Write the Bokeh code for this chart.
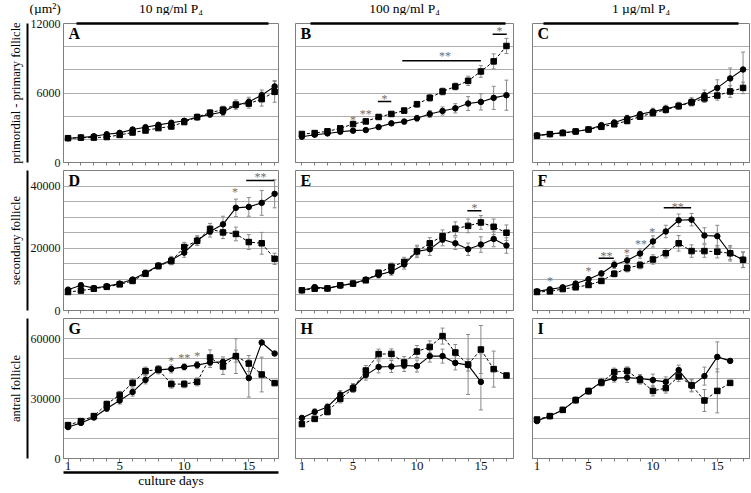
from bokeh.plotting import figure
from bokeh.models import Range1d, FixedTicker, ColumnDataSource, Whisker, TeeHead, Label, LinearAxis
from bokeh.layouts import row, column
from bokeh.embed import file_html
from bokeh.resources import INLINE
from bokeh.core.properties import value

FONT = "'Liberation Serif', 'Times New Roman', serif"

days17 = list(range(1, 18))
x_tick_labels = [1, 5, 10, 15]
col_titles = ["10 ng/ml P\u2084", "100 ng/ml P\u2084", "1 \u00b5g/ml P\u2084"]
row_titles = ["primordial - primary follicle", "secondary follicle", "antral follicle"]
unit_label = "(\u00b5m\u00b2)"
x_title = "culture days"

row_ymax = [12000, 45000, 70000]
row_grid = [2000, 5000, 10000]
row_yticks = [[0, 6000, 12000], [0, 20000, 40000], [0, 30000, 60000]]

# ---- Panel A
A_circ = [2100, 2150, 2270, 2440, 2560, 2850, 3050, 3250, 3430, 3600, 3920, 4150, 4360, 4940, 5230, 5810, 6570]
A_circ_err = [80, 80, 100, 120, 120, 150, 150, 150, 150, 200, 250, 250, 300, 300, 400, 450, 500]
A_sq = [2100, 2150, 2150, 2200, 2380, 2590, 2760, 2970, 3110, 3490, 3920, 4300, 4560, 5000, 5090, 5470, 6100]
A_sq_err = [80, 80, 100, 120, 120, 150, 150, 150, 200, 200, 250, 250, 300, 400, 400, 600, 900]
A_stars = []
A_bars = []

# ---- Panel B
B_circ = [2230, 2400, 2510, 2660, 2750, 2800, 3060, 3380, 3530, 3820, 4190, 4450, 4680, 5090, 5230, 5580, 5810]
B_circ_err = [100, 100, 100, 100, 100, 120, 150, 150, 200, 250, 300, 350, 400, 600, 700, 1000, 1300]
B_sq = [2460, 2540, 2690, 2950, 3320, 3550, 3930, 4190, 4480, 5030, 5580, 6130, 6560, 7050, 7860, 8730, 10060]
B_sq_err = [100, 100, 100, 150, 150, 150, 150, 200, 200, 250, 300, 300, 300, 400, 500, 650, 650]
B_stars = [(5, 3900, "*"), (6, 4420, "**"), (7.47, 5780, "*"), (12.2, 9450, "**"), (16.45, 11620, "*")]
B_bars = [(6.94, 7.99, 5260), (8.85, 15.0, 8790), (15.92, 17.02, 11070)]

# ---- Panel C
C_circ = [2340, 2450, 2590, 2680, 2850, 3220, 3450, 3820, 4160, 4390, 4640, 4900, 5240, 5810, 6440, 7260, 8030]
C_circ_err = [100, 100, 100, 100, 120, 200, 200, 250, 250, 300, 300, 300, 350, 450, 700, 900, 1500]
C_sq = [2310, 2450, 2540, 2680, 2850, 3080, 3300, 3590, 3960, 4270, 4560, 4870, 5190, 5530, 5780, 6130, 6440]
C_sq_err = [100, 100, 100, 100, 120, 200, 200, 250, 250, 300, 300, 300, 300, 350, 400, 500, 500]
C_stars = []
C_bars = []

# ---- Panel D
D_circ = [6700, 8100, 7200, 7800, 8650, 9950, 12100, 14400, 16200, 18600, 22500, 25400, 27700, 33000, 33300, 34600, 37500]
D_circ_err = [500, 900, 500, 500, 500, 700, 900, 1000, 1200, 1500, 1500, 1800, 2600, 2800, 3000, 4000, 4500]
D_sq = [5950, 6400, 7000, 7600, 8400, 9500, 11800, 14300, 15900, 20400, 22400, 26200, 25100, 24600, 22000, 21600, 16600]
D_sq_err = [500, 500, 500, 500, 600, 700, 900, 1000, 1200, 1500, 1500, 1800, 2000, 2200, 2400, 3500, 1800]
D_stars = [(13.94, 38900, "*"), (15.9, 44000, "**")]
D_bars = [(14.8, 16.96, 41800)]

# ---- Panel E
E_circ = [6500, 7500, 7100, 8000, 8650, 9950, 11450, 12550, 14800, 19000, 19700, 22800, 21600, 19700, 21200, 23000, 20900]
E_circ_err = [400, 800, 400, 500, 500, 700, 1000, 1200, 1500, 2000, 2000, 2000, 2000, 2000, 2500, 2500, 2500]
E_sq = [6500, 7000, 7100, 8100, 8650, 9700, 12100, 14050, 15600, 19000, 21600, 23900, 26300, 27200, 28300, 26900, 25000]
E_sq_err = [400, 500, 400, 500, 500, 700, 1000, 1200, 1500, 1500, 1800, 2000, 2200, 2200, 2200, 2500, 2500]
E_stars = [(14.5, 34050, "*")]
E_bars = [(13.94, 15.04, 32100)]

# ---- Panel F
F_circ = [6150, 6800, 7450, 8650, 10050, 11900, 14700, 16100, 18300, 22200, 25400, 29000, 29200, 24100, 23900, 18400, 16300]
F_circ_err = [400, 500, 500, 600, 700, 800, 1200, 1500, 1500, 1800, 2000, 2000, 2000, 2500, 3500, 2500, 2500]
F_sq = [5950, 6150, 6900, 7450, 8200, 9500, 11800, 13600, 14600, 16400, 18400, 21600, 19100, 19100, 18900, 18400, 16300]
F_sq_err = [400, 500, 500, 600, 700, 800, 1000, 1200, 1200, 1500, 1500, 2500, 2000, 2000, 2000, 2000, 2500]
F_stars = [(2.01, 10500, "*"), (4.99, 13700, "*"), (6.39, 18400, "**"), (7.97, 19460, "*"),
           (9.08, 22400, "**"), (9.94, 26200, "*"), (11.93, 34300, "**")]
F_bars = [(5.79, 6.96, 16760), (10.84, 12.97, 33000)]

# ---- Panel G
G_circ = [15700, 17800, 20500, 25000, 29000, 33200, 39300, 44300, 44800, 45800, 46700, 48000, 48300, 51200, 40200, 58000, 52500]
G_circ_err = [800, 800, 1000, 1500, 1800, 2000, 2000, 2000, 2000, 1500, 1800, 2500, 2500, 3000, 9500, 0, 0]
G_sq = [16700, 18700, 21200, 27200, 31800, 37800, 43700, 44500, 37200, 37200, 38300, 50500, 46000, 51200, 47500, 42000, 37700]
G_sq_err = [800, 800, 1000, 1500, 1800, 2000, 2000, 2000, 2000, 1800, 2000, 3800, 4000, 8700, 4000, 8700, 0]
G_stars = [(9, 50300, "*"), (10, 52000, "**"), (11, 53000, "*")]
G_bars = []

# ---- Panel H
H_circ = [20300, 23300, 25800, 32000, 35500, 41700, 45800, 46000, 46500, 46200, 51200, 51200, 47800, 46700, 38300]
H_circ_err = [1000, 1500, 1500, 2000, 2000, 2500, 3000, 3000, 3000, 3000, 3000, 3500, 3500, 3000, 14000]
H_sq = [17200, 19800, 23300, 29800, 35000, 44000, 52200, 52300, 48000, 53500, 55800, 61200, 53000, 47000, 54500, 44700, 41500]
H_sq_err = [1000, 1000, 1500, 2000, 2000, 2500, 2500, 2500, 3000, 3000, 3000, 4000, 4000, 15000, 12000, 9000, 0]
H_stars = []
H_bars = []

# ---- Panel I
I_circ = [18700, 21200, 24300, 29200, 33700, 38300, 40200, 40500, 40000, 39200, 38300, 44200, 36300, 41200, 50800, 48800]
I_circ_err = [800, 1000, 1000, 1500, 1500, 1800, 2000, 2500, 2000, 3000, 2500, 2500, 3000, 4500, 7500, 0]
I_sq = [19500, 21200, 24300, 29200, 33700, 38000, 43200, 43800, 39200, 33800, 35200, 41000, 36700, 29000, 33800, 37800]
I_sq_err = [800, 1000, 1000, 1500, 1500, 1800, 2000, 2000, 2000, 2500, 2500, 2500, 3000, 5500, 11000, 0]
I_stars = []
I_bars = []

panels = [
    ("A", A_circ, A_circ_err, A_sq, A_sq_err, A_stars, A_bars),
    ("B", B_circ, B_circ_err, B_sq, B_sq_err, B_stars, B_bars),
    ("C", C_circ, C_circ_err, C_sq, C_sq_err, C_stars, C_bars),
    ("D", D_circ, D_circ_err, D_sq, D_sq_err, D_stars, D_bars),
    ("E", E_circ, E_circ_err, E_sq, E_sq_err, E_stars, E_bars),
    ("F", F_circ, F_circ_err, F_sq, F_sq_err, F_stars, F_bars),
    ("G", G_circ, G_circ_err, G_sq, G_sq_err, G_stars, G_bars),
    ("H", H_circ, H_circ_err, H_sq, H_sq_err, H_stars, H_bars),
    ("I", I_circ, I_circ_err, I_sq, I_sq_err, I_stars, I_bars),
]

# ---- layout geometry (pixels)
COL_XR = [(0.65, 17.3), (0.5, 17.55), (0.65, 17.5)]
COL_BL = [63, 9, 10]
COL_FW = [215, 218, 217]
COL_BR = [8, 9, 2]
HDR_H = 15
UNIT_X = 29
ROW_BT = [8, 1, 1]
ROW_FH = [139, 140, 140]
ROW_BB = [7, 7, 35]
HDR_INSET = [(13, 10), (15, 8), (11, 11)]   # header rule insets from frame edges, px

GRID_COLOR = "#adadad"
FRAME_COLOR = "#7f7f7f"
ERR_COLOR = "#8a8a8a"
STAR_COLOR = "#6e6e6e"


def bare_axis(**kw):
    base = dict(ticker=FixedTicker(ticks=[]), axis_line_color=None, major_tick_out=0, major_tick_in=0,
                major_tick_line_color=None, minor_tick_line_color=None, minor_tick_out=0, minor_tick_in=0,
                major_label_standoff=0, axis_label_standoff=0,
                axis_label_text_font=FONT, axis_label_text_font_style="normal",
                axis_label_text_color="black")
    base.update(kw)
    return LinearAxis(**base)


def whisk(p, xs, ys, errs):
    xx, lo, hi = [], [], []
    for x, y, e in zip(xs, ys, errs):
        if e and e > 0:
            xx.append(x); lo.append(y - e); hi.append(y + e)
    if not xx:
        return
    src = ColumnDataSource(dict(x=xx, lo=lo, hi=hi))
    w = Whisker(source=src, base="x", lower="lo", upper="hi", line_color=ERR_COLOR, line_width=1,
                upper_head=TeeHead(size=4, line_color=ERR_COLOR, line_width=1),
                lower_head=TeeHead(size=4, line_color=ERR_COLOR, line_width=1))
    p.add_layout(w)


def make_header(c):
    w = COL_BL[c] + COL_FW[c] + COL_BR[c]
    f = figure(width=w, height=HDR_H, x_range=Range1d(0, w), y_range=Range1d(HDR_H, 0),
               output_backend="svg", toolbar_location=None,
               min_border_left=0, min_border_right=0, min_border_top=0, min_border_bottom=0)
    f.axis.visible = False
    f.grid.visible = False
    f.outline_line_color = None
    f.border_fill_color = "white"
    f.background_fill_color = "white"
    f.text([COL_BL[c] + COL_FW[c] / 2], [HDR_H / 2], text=[col_titles[c]], text_font=value(FONT),
           text_font_size="13.5px", text_align="center", text_baseline="middle", text_color="black")
    if c == 0:
        f.text([UNIT_X], [HDR_H / 2], text=[unit_label], text_font=value(FONT),
               text_font_size="13.5px", text_align="left", text_baseline="middle", text_color="black")
    return f


def make_panel(idx):
    letter, circ, circ_err, sq, sq_err, stars, bars = panels[idx]
    r, c = divmod(idx, 3)
    ymax = row_ymax[r]
    x0, x1 = COL_XR[c]
    p = figure(width=COL_BL[c] + COL_FW[c] + COL_BR[c], height=ROW_BT[r] + ROW_FH[r] + ROW_BB[r],
               x_range=Range1d(x0, x1), y_range=Range1d(0, ymax),
               output_backend="svg", toolbar_location=None,
               min_border_left=COL_BL[c], min_border_right=COL_BR[c],
               min_border_top=ROW_BT[r], min_border_bottom=ROW_BB[r])
    p.outline_line_color = FRAME_COLOR
    p.outline_line_width = 1
    p.border_fill_color = "white"
    p.background_fill_color = "white"
    p.xgrid.visible = False
    p.ygrid.ticker = FixedTicker(ticks=list(range(0, ymax + 1, row_grid[r])))
    p.ygrid.grid_line_color = GRID_COLOR
    p.ygrid.grid_line_width = 1

    yax = p.yaxis[0]
    if c == 0:
        yax.ticker = FixedTicker(ticks=row_yticks[r])
        yax.axis_line_color = None
        yax.major_tick_line_color = None
        yax.minor_tick_line_color = None
        yax.major_tick_out = 0
        yax.major_tick_in = 0
        yax.major_label_text_font = FONT
        yax.major_label_standoff = 3
        yax.major_label_text_font_size = "12px"
        yax.major_label_text_color = "#111111"
        # spacer, then the row title with its vertical rule
        p.add_layout(bare_axis(major_tick_out=7), "left")
        p.add_layout(bare_axis(axis_line_color="black", axis_line_width=2,
                               axis_label=row_titles[r], axis_label_standoff=5,
                               axis_label_text_font_size="12.5px"), "left")
    else:
        yax.visible = False

    xax = p.xaxis[0]
    if r == 2:
        xax.ticker = FixedTicker(ticks=x_tick_labels, minor_ticks=days17)
        xax.major_label_text_font = FONT
        xax.major_label_text_font_size = "13px"
        xax.major_label_text_color = "#111111"
        xax.major_label_standoff = 0
    else:
        xax.ticker = FixedTicker(ticks=[], minor_ticks=days17)
        xax.major_label_standoff = 0
    xax.axis_line_color = FRAME_COLOR
    xax.major_tick_line_color = FRAME_COLOR
    xax.minor_tick_line_color = FRAME_COLOR
    xax.major_tick_out = 3
    xax.major_tick_in = 0
    xax.minor_tick_out = 3
    xax.minor_tick_in = 0

    if r == 0:
        pxd = COL_FW[c] / (x1 - x0)
        b0 = x0 + HDR_INSET[c][0] / pxd
        b1 = x1 - HDR_INSET[c][1] / pxd
        p.add_layout(bare_axis(major_tick_out=6), "above")
        p.add_layout(bare_axis(axis_line_color="black", axis_line_width=2.5, bounds=(b0, b1)), "above")
    if r == 2 and c == 0:
        p.add_layout(bare_axis(axis_line_color="black", axis_line_width=2.5,
                               axis_label=x_title, axis_label_standoff=0,
                               axis_label_text_font_size="13.5px"), "below")

    xc = days17[:len(circ)]
    xs = days17[:len(sq)]
    whisk(p, xc, circ, circ_err)
    whisk(p, xs, sq, sq_err)
    p.line(xs, sq, line_color="black", line_width=1, line_dash="3 2")
    p.line(xc, circ, line_color="black", line_width=1.1)
    p.scatter(xs, sq, marker="square", size=5.5, fill_color="black", line_color="black")
    p.scatter(xc, circ, marker="circle", size=5.5, fill_color="black", line_color="black")

    if bars:
        p.segment([b[0] for b in bars], [b[2] for b in bars], [b[1] for b in bars], [b[2] for b in bars],
                  line_color="black", line_width=1.5)
    if stars:
        p.text([s[0] for s in stars], [s[1] for s in stars], text=[s[2] for s in stars],
               text_font=value(FONT), text_font_size="12px", text_color=STAR_COLOR,
               text_align="center", text_baseline="middle", y_offset=3)

    p.add_layout(Label(x=x0, y=ymax, x_offset=5, y_offset=-1, text=letter, text_font=FONT,
                       text_font_size="16px", text_font_style="bold", text_baseline="top",
                       text_color="black"))
    return p


headers = [make_header(c) for c in range(3)]
figs = [make_panel(i) for i in range(9)]
grid_rows = [row(*headers, spacing=0)]
grid_rows += [row(figs[3 * r], figs[3 * r + 1], figs[3 * r + 2], spacing=0) for r in range(3)]
layout = column(*grid_rows, spacing=0)

open("out.html", "w").write(file_html(layout, INLINE))
